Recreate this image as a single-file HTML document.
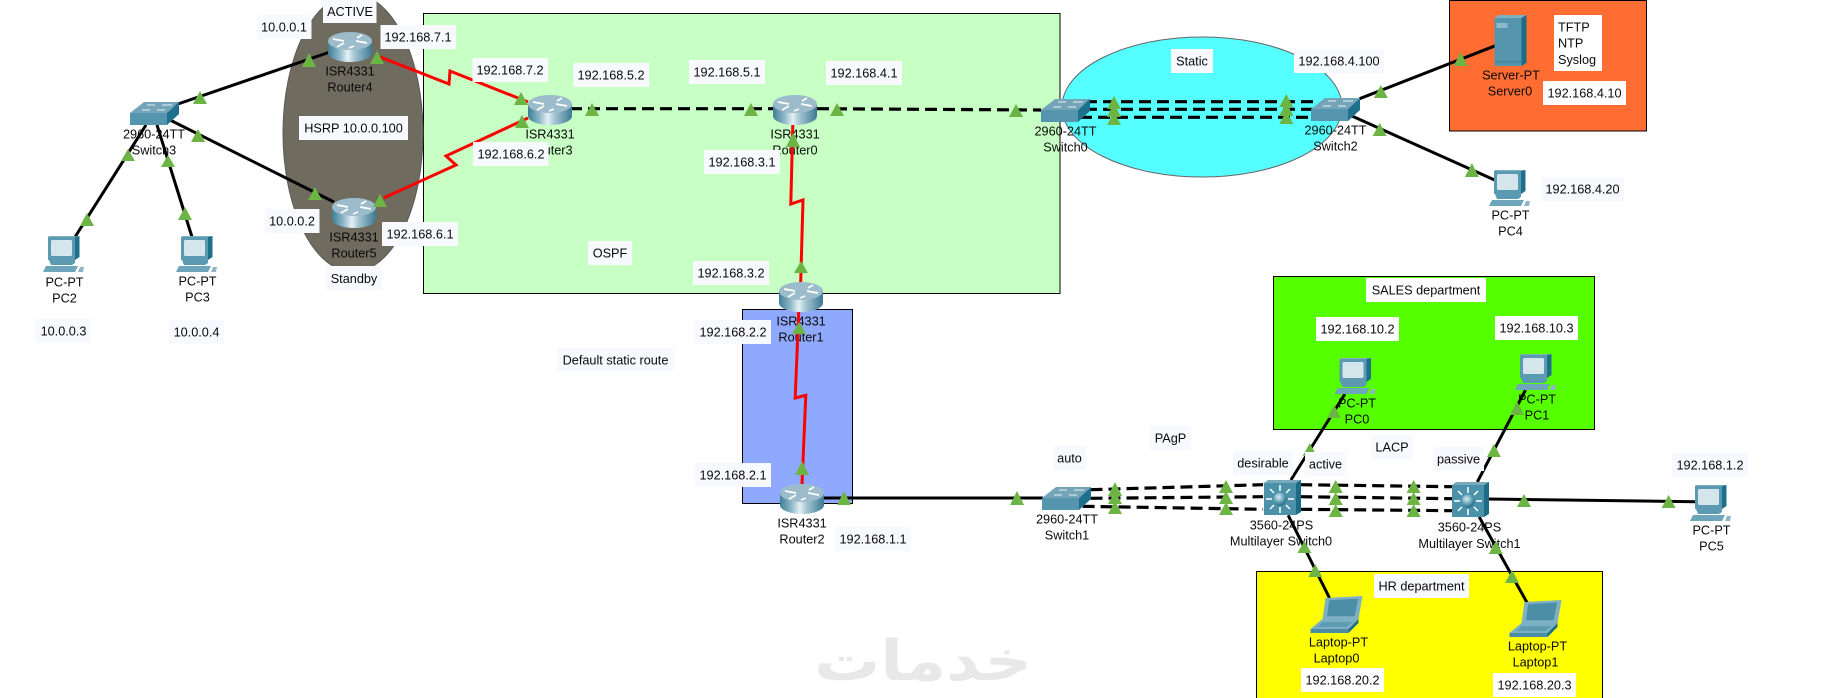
<!DOCTYPE html>
<html lang="en">
<head>
<meta charset="utf-8">
<title>Network topology</title>
<style>
html,body{margin:0;padding:0;background:#fff;width:1845px;height:698px;overflow:hidden}
svg{display:block}
text{font-family:"Liberation Sans",Arial,sans-serif;font-size:12.7px;fill:#0a0a0a;text-anchor:middle}
.g{fill:#f8f8ff}
.w{fill:#fff}
.blk{stroke:#000;stroke-width:3;fill:none}
.dsh{stroke:#000;stroke-width:3.2;fill:none;stroke-dasharray:12 6}
.red{stroke:#f00;stroke-width:3;fill:none}
.t{fill:#6cb443}
</style>
</head>
<body>
<svg width="1845" height="698" viewBox="0 0 1845 698" xmlns="http://www.w3.org/2000/svg">
<defs>
<linearGradient id="rg" x1="0" x2="1" y1="0" y2="0">
<stop offset="0" stop-color="#3f7f96"/><stop offset=".25" stop-color="#8ab5c6"/><stop offset=".45" stop-color="#e4f0f4"/><stop offset=".6" stop-color="#a5c6d3"/><stop offset="1" stop-color="#3d7a91"/>
</linearGradient>
<radialGradient id="sp" cx=".4" cy=".35" r=".7"><stop offset="0" stop-color="#d7ecf3"/><stop offset=".6" stop-color="#5e9fb5"/><stop offset="1" stop-color="#1d5f78"/></radialGradient>
<symbol id="router" viewBox="0 0 44 30" width="44" height="30">
<path d="M0 9V21A22 9 0 0 0 44 21V9Z" fill="url(#rg)"/>
<ellipse cx="22" cy="9" rx="22" ry="9" fill="#9cbccb"/>
<g stroke="#fff" stroke-width="1.7" fill="none"><path d="M5 7L16 9"/><path d="M28 9L39 11"/><path d="M29 6L34 3"/><path d="M9 15L16 11"/><path d="M26 14L21 16"/></g>
</symbol>
<symbol id="switch" viewBox="0 0 49 23" width="49" height="23">
<path d="M0 11L14 0H49L37 11Z" fill="#74a4b7"/>
<path d="M0 11H37V23H0Z" fill="#5596ae"/>
<path d="M37 11L49 0V12L37 23Z" fill="#1e708c"/>
<g stroke="#e8f3f7" stroke-width="1" fill="none"><path d="M17 3H25"/><path d="M32 3H42"/><path d="M12 8H20"/><path d="M27 8H35"/></g>
</symbol>
<symbol id="mls" viewBox="0 0 37 35" width="37" height="35">
<path d="M0 3L4 0H37L32 3Z" fill="#7aa9bb"/>
<path d="M0 3H32V35H0Z" fill="#4a91a9"/>
<path d="M32 3L37 0V32L32 35Z" fill="#1c6c88"/>
<circle cx="16" cy="19" r="6.5" fill="url(#sp)"/>
<g stroke="#fff" stroke-width="1.5" fill="none"><path d="M16 11V5"/><path d="M16 27V33"/><path d="M8 19H2"/><path d="M24 19H30"/><path d="M10 13L6 9"/><path d="M22 13L26 9"/><path d="M10 25L6 29"/><path d="M22 25L26 29"/></g>
</symbol>
<symbol id="pc" viewBox="0 0 43 37" width="43" height="37">
<path d="M5 1H32V24H5Z" fill="#5c9ab2"/>
<path d="M5 1L6 0H36.5L32 1Z" fill="#7fb0c2"/>
<path d="M32 1L36.5 0V21L32 24Z" fill="#1d6f8b"/>
<rect x="8" y="4" width="21" height="16" rx="1.5" fill="#d5e5ec"/>
<path d="M6 24H32V27L29 29H8Z" fill="#5c9ab2"/>
<path d="M0 36L3 30H35L32 36Z" fill="#6da5ba"/>
<path d="M35 36L37 31H41L40 36Z" fill="#8db6c6"/>
</symbol>
<symbol id="laptop" viewBox="0 0 55 37" width="55" height="37">
<path d="M15 2L52 0L48 23H12Z" fill="#7fb0c3"/>
<path d="M18.600 4.300L47.600 2.600L44.200 20.300H16.600Z" fill="#4c8ea6"/>
<path d="M12 23H48L38 33H0Z" fill="#7bb0c3"/>
<path d="M0 33H38V37H0Z" fill="#4b8da5"/>
<path d="M38 33L48 23V27L38 37Z" fill="#1d6f8b"/>
<path d="M12 26H42L36 31H7Z" fill="#5f9cb3"/>
</symbol>
<symbol id="server" viewBox="0 0 32 51" width="32" height="51">
<path d="M0 3L4 0H32L27 3Z" fill="#7fb0c2"/>
<path d="M0 3H27V51H0Z" fill="#5596ae"/>
<path d="M27 3L32 0V48L27 51Z" fill="#1b6c87"/>
<rect x="2" y="8" width="11" height="5" fill="#8db8c9"/>
<path d="M0 47H27" stroke="#3d7d95" stroke-width="1"/>
</symbol>
</defs>

<!-- areas -->
<rect x="423.500" y="13.500" width="636.500" height="280" fill="#c8ffc4" stroke="#000" stroke-width="1"/>
<ellipse cx="353" cy="133" rx="70" ry="139" fill="#6f6b5f" stroke="#5a5a5a" stroke-width="1"/>
<rect x="742.500" y="309.500" width="110" height="194" fill="#8fa9ff" stroke="#000" stroke-width="1"/>
<ellipse cx="1202" cy="107" rx="140" ry="70" fill="#55ffff" stroke="#666" stroke-width="1"/>
<rect x="1449.500" y="0.500" width="197" height="130.500" fill="#ff6d33" stroke="#000" stroke-width="1"/>
<rect x="1273.500" y="276.500" width="321" height="153" fill="#55ff00" stroke="#000" stroke-width="1"/>
<rect x="1256.500" y="571.500" width="346" height="140" fill="#ffff00" stroke="#000" stroke-width="1"/>

<!-- watermark -->
<text x="923" y="680" textLength="218" lengthAdjust="spacingAndGlyphs" style="font-family:'DejaVu Sans',sans-serif;font-size:56px;font-weight:bold;fill:#e8e8e8" direction="rtl">خدمات</text>

<!-- device labels -->
<text x="350" y="75.500">ISR4331</text><text x="350" y="91.500">Router4</text>
<text x="354" y="241.500">ISR4331</text><text x="354" y="257.500">Router5</text>
<text x="550" y="138.500">ISR4331</text><text x="550" y="154.500">Router3</text>
<text x="795" y="138.500">ISR4331</text><text x="795" y="154.500">Router0</text>
<text x="801" y="325.500">ISR4331</text><text x="801" y="341.500">Router1</text>
<text x="802" y="527.500">ISR4331</text><text x="802" y="543.500">Router2</text>
<text x="154" y="138.500">2960-24TT</text><text x="154" y="154.500">Switch3</text>
<text x="1065.500" y="135.500">2960-24TT</text><text x="1065.500" y="151.500">Switch0</text>
<text x="1335.500" y="134.500">2960-24TT</text><text x="1335.500" y="150.500">Switch2</text>
<text x="1067" y="523.500">2960-24TT</text><text x="1067" y="539.500">Switch1</text>
<text x="1281.500" y="529.500">3560-24PS</text><text x="1281" y="545.500">Multilayer Switch0</text>
<text x="1469.500" y="531.500">3560-24PS</text><text x="1469.500" y="548">Multilayer Switch1</text>
<text x="64.500" y="286.500">PC-PT</text><text x="64.500" y="302.500">PC2</text>
<text x="197.500" y="285.500">PC-PT</text><text x="197.500" y="301.500">PC3</text>
<text x="1510.500" y="219.500">PC-PT</text><text x="1510.500" y="235.500">PC4</text>
<text x="1357" y="407.500">PC-PT</text><text x="1357" y="423.500">PC0</text>
<text x="1537" y="403.500">PC-PT</text><text x="1537" y="419.500">PC1</text>
<text x="1711.500" y="534.500">PC-PT</text><text x="1711.500" y="550.500">PC5</text>
<text x="1511" y="79.500">Server-PT</text><text x="1510" y="95.500">Server0</text>
<text x="1338.500" y="646.500">Laptop-PT</text><text x="1336.500" y="662.500">Laptop0</text>
<text x="1537.500" y="650.500">Laptop-PT</text><text x="1535.500" y="666.500">Laptop1</text>

<!-- links -->
<path class="blk" d="M175 105L330 52"/>
<path class="blk" d="M170 120L334 202"/>
<path class="blk" d="M146 125L75 237"/>
<path class="blk" d="M157 125L192 237"/>
<path class="red" d="M380 57L449 84L450 71L528 102"/>
<path class="red" d="M383.500 198L456 165L446 156L528 118"/>
<path class="dsh" d="M570 108.700H795"/>
<path class="dsh" d="M817 108.700L1041 110"/>
<path class="dsh" d="M1085 101.700H1318"/>
<path class="dsh" d="M1085 109.300H1318"/>
<path class="dsh" d="M1080 117.300H1318"/>
<path class="red" d="M792.800 125L790.800 204L803 200L800.700 282"/>
<path class="red" d="M798.700 312L795.200 398L805.800 395.300L802 484"/>
<path class="blk" d="M823 498H1043"/>
<path class="dsh" d="M1090.500 489.700L1263.100 484.700"/>
<path class="dsh" d="M1090.500 498.300L1263.100 496.700"/>
<path class="dsh" d="M1082.600 506.300L1263.100 509.300"/>
<path class="dsh" d="M1300.200 484.700L1452.200 486.700"/>
<path class="dsh" d="M1300.200 496.700L1452.200 498.700"/>
<path class="dsh" d="M1300.200 509.300L1452.200 510.700"/>
<path class="blk" d="M1487.700 499L1695.200 501.700"/>
<path class="blk" d="M1290.900 480L1344.900 394"/>
<path class="blk" d="M1477.300 482L1525.500 390"/>
<path class="blk" d="M1288.200 515.300L1329.500 598"/>
<path class="blk" d="M1479.200 517L1528.200 604.700"/>
<path class="blk" d="M1359.600 98.700L1495.400 45.700"/>
<path class="blk" d="M1351.900 116L1494.600 180"/>

<!-- devices -->
<use href="#router" x="328" y="32"/>
<use href="#router" x="332" y="198"/>
<use href="#router" x="528" y="95"/>
<use href="#router" x="773" y="95"/>
<use href="#router" x="779" y="282"/>
<use href="#router" x="780" y="484"/>
<use href="#switch" x="130" y="102"/>
<use href="#switch" x="1041" y="99"/>
<use href="#switch" x="1311" y="98"/>
<use href="#switch" x="1042" y="487"/>
<use href="#mls" x="1264" y="480"/>
<use href="#mls" x="1452" y="482"/>
<use href="#pc" x="43" y="236"/>
<use href="#pc" x="176" y="236"/>
<use href="#pc" x="1489" y="170"/>
<use href="#pc" x="1334.500" y="358"/>
<use href="#pc" x="1515" y="354"/>
<use href="#pc" x="1690" y="485"/>
<use href="#server" x="1494.500" y="15"/>
<use href="#laptop" x="1310.500" y="596"/>
<use href="#laptop" x="1509.500" y="600"/>

<!-- link lights -->
<g class="t">
<path d="M309 53l7 14h-14z"/><path d="M200 91l7 13h-14z"/><path d="M377 51l7 13h-14z"/>
<path d="M521 92l7 13h-14z"/><path d="M522 115l7 13h-14z"/><path d="M592 103l7 13h-14z"/>
<path d="M198 129l7 13h-14z"/><path d="M315 187l7 13h-14z"/><path d="M380 194l7 13h-14z"/>
<path d="M128 149l7 12h-14z"/><path d="M168 155l7 12h-14z"/><path d="M87 213l7 13h-14z"/><path d="M185 207l7 13h-14z"/>
<path d="M751 103l7 13h-14z"/><path d="M837 103l7 13h-14z"/><path d="M1016 104l7 13h-14z"/>
<path d="M1114 96l7 13h-14z"/><path d="M1114 103l7 14h-14z"/><path d="M1114 112l7 13h-14z"/>
<path d="M793 133l7 14h-14z"/><path d="M801 261l7 12h-14z"/><path d="M799 322l7 12h-14z"/>
<path d="M1286.300 94l7 13h-14z"/><path d="M1286.300 102l7 14h-14z"/><path d="M1286.300 111l7 13h-14z"/>
<path d="M1380.800 85l7 13h-14z"/><path d="M1379.700 123l7 13h-14z"/><path d="M1460.700 52l7 14h-14z"/><path d="M1471.900 163l7 14h-14z"/>
<path d="M802 461l7 14h-14z"/><path d="M844 491l7 14h-14z"/><path d="M1017 491l7 14h-14z"/>
<path d="M1115 482l7 14h-14z"/><path d="M1115 491l7 13h-14z"/><path d="M1115 501l7 13h-14z"/>
<path d="M1226 480l7 13h-14z"/><path d="M1226 491l7 13h-14z"/><path d="M1226 502l7 13h-14z"/>
<path d="M1335.700 480l7 13h-14z"/><path d="M1335.700 492l7 13h-14z"/><path d="M1335.700 504l7 13h-14z"/>
<path d="M1413.600 480l7 13h-14z"/><path d="M1413.600 492l7 13h-14z"/><path d="M1413.600 504l7 13h-14z"/>
<path d="M1334.100 405l7 13h-14z"/><path d="M1309.800 443l7 13h-14z"/><path d="M1493.900 444l7 13h-14z"/>
<path d="M1517 401l7 14h-14z"/><path d="M1524 494l7 13h-14z"/><path d="M1668.600 495l7 13h-14z"/>
<path d="M1304.400 541l7 12h-14z"/><path d="M1315.200 564l7 13h-14z"/><path d="M1495.800 541l7 13h-14z"/><path d="M1512 570l7 13h-14z"/>
</g>

<!-- notes -->
<rect class="g" x="323" y="0" width="53.500" height="23"/><text x="350" y="16">ACTIVE</text>
<rect class="g" x="257" y="15" width="54.500" height="24"/><text x="284" y="31.500">10.0.0.1</text>
<rect class="g" x="380.500" y="25" width="75.500" height="24"/><text x="418" y="41.500">192.168.7.1</text>
<rect class="g" x="472.500" y="58" width="75.500" height="24"/><text x="510" y="74.500">192.168.7.2</text>
<rect class="g" x="573.500" y="63" width="75.500" height="24"/><text x="611" y="79.500">192.168.5.2</text>
<rect class="g" x="299" y="116" width="109" height="24"/><text x="353.500" y="132.500">HSRP 10.0.0.100</text>
<rect class="g" x="473" y="142" width="75.500" height="24"/><text x="511" y="158.500">192.168.6.2</text>
<rect class="g" x="265" y="209" width="54.500" height="24"/><text x="292" y="225.500">10.0.0.2</text>
<rect class="g" x="382" y="222" width="76" height="24"/><text x="420" y="238.500">192.168.6.1</text>
<rect class="g" x="326" y="266" width="56" height="24"/><text x="354" y="283">Standby</text>
<rect class="g" x="35.500" y="319" width="55.500" height="24"/><text x="63.500" y="335.500">10.0.0.3</text>
<rect class="g" x="169" y="320" width="55" height="24"/><text x="196.500" y="336.500">10.0.0.4</text>
<rect class="g" x="588" y="241" width="44" height="24"/><text x="610" y="257.500">OSPF</text>
<rect class="g" x="689" y="60" width="76" height="24"/><text x="727" y="76.500">192.168.5.1</text>
<rect class="g" x="826" y="61" width="76" height="24"/><text x="864" y="77.500">192.168.4.1</text>
<rect class="g" x="1171" y="49" width="42" height="24"/><text x="1192" y="65.500">Static</text>
<rect class="g" x="704" y="150" width="76" height="24"/><text x="742" y="166.500">192.168.3.1</text>
<rect class="g" x="693" y="261" width="76" height="24"/><text x="731" y="277.500">192.168.3.2</text>
<rect class="g" x="695" y="320" width="76" height="24"/><text x="733" y="336.500">192.168.2.2</text>
<rect class="g" x="1294" y="49" width="90" height="24"/><text x="1339" y="65.500">192.168.4.100</text>
<rect class="w" x="1554" y="15" width="48" height="56"/>
<text x="1558" y="31.500" style="text-anchor:start">TFTP</text><text x="1558" y="47.500" style="text-anchor:start">NTP</text><text x="1558" y="64" style="text-anchor:start">Syslog</text>
<rect class="w" x="1543" y="81" width="83" height="24"/><text x="1584.500" y="97.500">192.168.4.10</text>
<rect class="g" x="1541" y="177" width="83" height="24"/><text x="1582.500" y="193.500">192.168.4.20</text>
<rect class="w" x="1366" y="278" width="120" height="24"/><text x="1426" y="294.500">SALES department</text>
<rect class="w" x="1316" y="317" width="83" height="24"/><text x="1357.500" y="333.500">192.168.10.2</text>
<rect class="w" x="1495" y="316" width="83" height="24"/><text x="1536.500" y="332.500">192.168.10.3</text>
<rect class="g" x="557" y="348" width="117" height="23"/><text x="615.500" y="364.500">Default static route</text>
<rect class="g" x="695" y="463" width="76" height="24"/><text x="733" y="479.500">192.168.2.1</text>
<rect class="g" x="835" y="527" width="76" height="24"/><text x="873" y="543.500">192.168.1.1</text>
<rect class="g" x="1053" y="446" width="33" height="24"/><text x="1069.500" y="462.500">auto</text>
<rect class="g" x="1150" y="426" width="41" height="24"/><text x="1170.500" y="442.500">PAgP</text>
<rect class="g" x="1233" y="451" width="60" height="24"/><text x="1263" y="467.500">desirable</text>
<rect class="g" x="1305" y="452" width="41" height="24"/><text x="1325.500" y="468.500">active</text>
<rect class="g" x="1371" y="435" width="42" height="24"/><text x="1392" y="451.500">LACP</text>
<rect class="g" x="1433" y="447" width="51" height="24"/><text x="1458.500" y="463.500">passive</text>
<rect class="g" x="1672" y="453" width="76" height="24"/><text x="1710" y="469.500">192.168.1.2</text>
<rect class="g" x="1374" y="574" width="95" height="24"/><text x="1421.500" y="590.500">HR department</text>
<rect class="w" x="1301" y="668" width="83" height="24"/><text x="1342.500" y="684.500">192.168.20.2</text>
<rect class="w" x="1493" y="673" width="83" height="24"/><text x="1534.500" y="689.500">192.168.20.3</text>
</svg>
</body>
</html>
